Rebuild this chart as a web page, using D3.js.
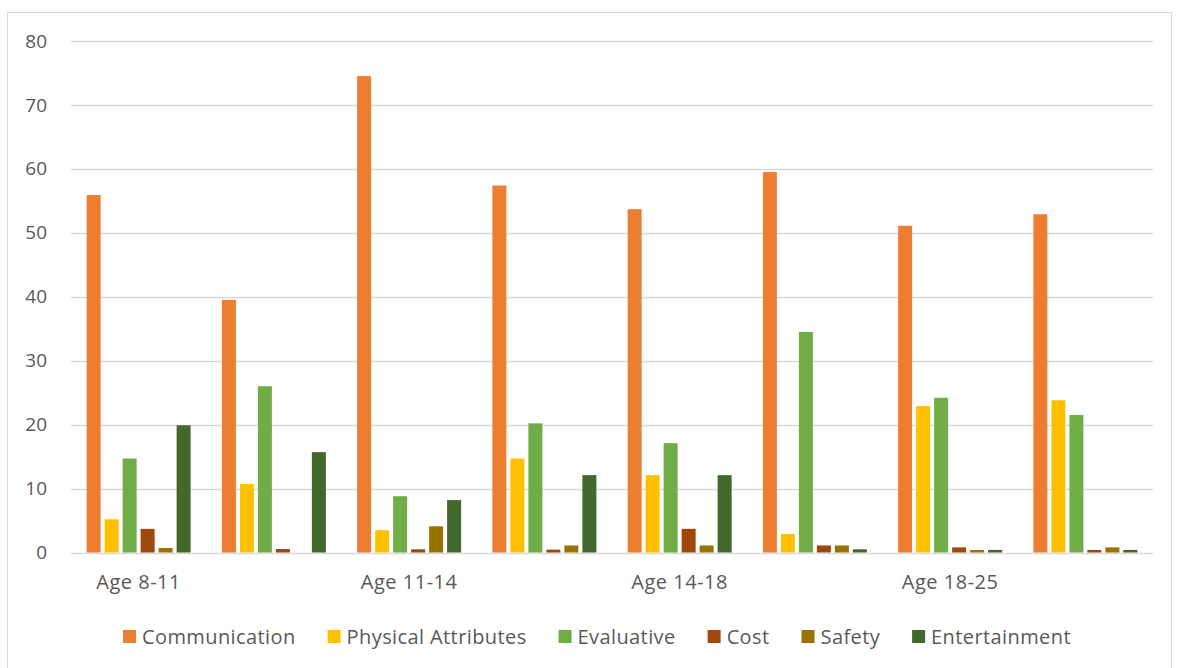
<!DOCTYPE html>
<html>
<head>
<meta charset="utf-8">
<script src="https://cdn.jsdelivr.net/npm/d3@7"></script>
<style>
  body { margin: 0; background: #fff; }
  svg { display: block; font-family: "Open Sans", sans-serif; }
</style>
</head>
<body>
<div id="chart"></div>
<script>
// categories: two columns per age band, label only under the first
const categories = ["g1", "g2", "g3", "g4", "g5", "g6", "g7", "g8"];
const tickLabels = ["Age 8-11", "", "Age 11-14", "", "Age 14-18", "", "Age 18-25", ""];
const seriesNames = ["Communication", "Physical Attributes", "Evaluative", "Cost", "Safety", "Entertainment"];
const seriesColors = ["#ED7D31", "#FFC000", "#70AD47", "#9E480E", "#997300", "#43682B"];

const communication = [55.9, 39.5, 74.5, 57.4, 53.7, 59.5, 51.1, 52.9];
const physical = [5.2, 10.7, 3.5, 14.7, 12.1, 2.9, 22.9, 23.8];
const evaluative = [14.7, 26.0, 8.8, 20.2, 17.1, 34.5, 24.2, 21.5];
const cost = [3.7, 0.55, 0.5, 0.45, 3.7, 1.1, 0.8, 0.4];
const safety = [0.7, 0, 4.1, 1.1, 1.1, 1.1, 0.4, 0.8];
const entertainment = [19.9, 15.7, 8.2, 12.1, 12.1, 0.5, 0.4, 0.4];

const yTicks = [0, 10, 20, 30, 40, 50, 60, 70, 80];

const seriesValues = [communication, physical, evaluative, cost, safety, entertainment];

const width = 1178;
const height = 668;
const margin = { top: 41, right: 25, bottom: 115.5, left: 71 };
const textColor = "#595959";
const gridColor = "#D9D9D9";

const svg = d3.select("#chart")
    .append("svg")
    .attr("width", width)
    .attr("height", height);

// chart area border
svg.append("rect")
    .attr("x", 7.5)
    .attr("y", 12.5)
    .attr("width", 1164)
    .attr("height", 700)
    .attr("fill", "none")
    .attr("stroke", gridColor)
    .attr("stroke-width", 1);

// scales
const x = d3.scaleBand()
    .domain(categories)
    .range([margin.left, width - margin.right]);

const xInner = d3.scaleBand()
    .domain(seriesNames)
    .range([0, x.bandwidth()])
    .paddingInner(0.222)
    .paddingOuter(0.868);

const y = d3.scaleLinear()
    .domain([0, 80])
    .range([height - margin.bottom, margin.top]);

// gridlines
svg.append("g")
    .selectAll("line")
    .data(yTicks)
    .join("line")
    .attr("x1", margin.left)
    .attr("x2", width - margin.right)
    .attr("y1", d => Math.round(y(d)) + 0.5)
    .attr("y2", d => Math.round(y(d)) + 0.5)
    .attr("stroke", gridColor)
    .attr("stroke-width", 1.5);

// y axis labels
const yAxis = d3.axisLeft(y)
    .tickValues(yTicks)
    .tickSize(0)
    .tickPadding(0);

svg.append("g")
    .attr("transform", `translate(${margin.left - 24}, 0)`)
    .call(yAxis)
    .call(g => g.select(".domain").remove())
    .call(g => g.selectAll("text")
        .attr("fill", textColor)
        .attr("font-size", "19px")
        .attr("font-family", "'Open Sans', sans-serif"));

// bars
const groups = svg.append("g")
    .selectAll("g")
    .data(categories)
    .join("g")
    .attr("transform", d => `translate(${x(d)}, 0)`);

groups.selectAll("rect")
    .data((d, i) => seriesNames.map((s, j) => ({ s, j, v: seriesValues[j][i] })))
    .join("rect")
    .attr("x", d => xInner(d.s))
    .attr("y", d => y(d.v))
    .attr("width", xInner.bandwidth())
    .attr("height", d => y(0) - y(d.v))
    .attr("fill", d => seriesColors[d.j]);

// x axis labels
const xAxis = d3.axisBottom(x)
    .tickFormat((d, i) => tickLabels[i])
    .tickSize(0)
    .tickPadding(0);

svg.append("g")
    .attr("transform", `translate(0, ${y(0) + 22})`)
    .call(xAxis)
    .call(g => g.select(".domain").remove())
    .call(g => g.selectAll("text")
        .attr("fill", textColor)
        .attr("font-size", "20px")
        .attr("letter-spacing", "0.5px")
        .attr("font-family", "'Open Sans', sans-serif"));

// legend
const legend = svg.append("g");
const items = legend.selectAll("g")
    .data(seriesNames)
    .join("g");

items.append("rect")
    .attr("y", 630)
    .attr("width", 13)
    .attr("height", 13)
    .attr("fill", (d, i) => seriesColors[i]);

items.append("text")
    .attr("x", 19)
    .attr("y", 644)
    .attr("font-size", "20px")
    .attr("letter-spacing", "0.4px")
    .attr("fill", textColor)
    .text(d => d);

let cursor = 123;
items.each(function() {
    const w = d3.select(this).select("text").node().getComputedTextLength();
    d3.select(this).attr("transform", `translate(${cursor}, 0)`);
    cursor += 19 + w + 32;
});
</script>
</body>
</html>
